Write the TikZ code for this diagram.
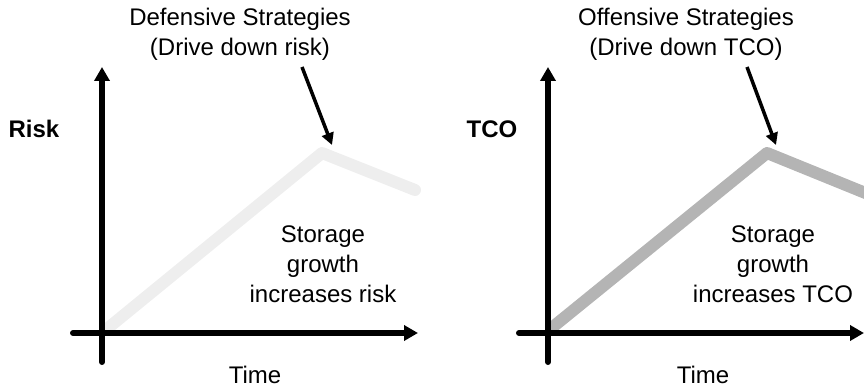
\documentclass[tikz,border=0pt]{standalone}
\usepackage{fontspec}
\setmainfont{Liberation Sans}
\usetikzlibrary{arrows.meta}
\definecolor{lowline}{HTML}{EEEEEE}
\definecolor{highline}{HTML}{B4B4B4}
\begin{document}
\begin{tikzpicture}[x=1pt,y=-1pt,
    axis/.style={line width=6pt,line cap=round,-{Triangle[length=14pt,width=15pt]}},
    trend/.style={line width=12pt,line cap=round,line join=round},
    pointer/.style={line width=3.5pt,-{Triangle[length=12pt,width=12pt]}},
    txt/.style={font=\fontsize{24}{30}\selectfont,align=center,inner sep=0pt}]
  \useasboundingbox (0,0) rectangle (864,387);
  % risk panel
  \coordinate (rxs) at (73,333);
  \coordinate (rxe) at (418,333);
  \coordinate (rys) at (102,362);
  \coordinate (rye) at (102,67);
  \coordinate (rstart) at (108,328);
  \coordinate (rpeak) at (322,153);
  \coordinate (rend) at (415,190);
  \coordinate (rps) at (302,67);
  \coordinate (rpt) at (332,145);
  \draw[trend,lowline] (rstart) -- (rpeak) -- (rend);
  \draw[axis] (rxs) -- (rxe);
  \draw[axis] (rys) -- (rye);
  \draw[pointer] (rps) -- (rpt);
  \node[txt] (rtitle) at (240,34) {Defensive Strategies\\(Drive down risk)};
  \node[txt,font=\fontsize{24}{30}\selectfont\bfseries] (rlabel) at (34,129) {Risk};
  \node[txt] (rtime) at (255,375) {Time};
  \node[txt] (rnote) at (323,264) {Storage\\growth\\increases risk};
  % tco panel
  \coordinate (txs) at (519,333);
  \coordinate (txe) at (864,333);
  \coordinate (tys) at (548,362);
  \coordinate (tye) at (548,67);
  \coordinate (tstart) at (554,326);
  \coordinate (tpeak) at (767,153);
  \coordinate (tend) at (890,203);
  \coordinate (tps) at (747,67);
  \coordinate (tpt) at (776,145);
  \draw[trend,highline] (tstart) -- (tpeak) -- (tend);
  \draw[axis] (txs) -- (txe);
  \draw[axis] (tys) -- (tye);
  \draw[pointer] (tps) -- (tpt);
  \node[txt] (ttitle) at (686,34) {Offensive Strategies\\(Drive down TCO)};
  \node[txt,font=\fontsize{24}{30}\selectfont\bfseries] (tlabel) at (492,129) {TCO};
  \node[txt] (ttime) at (703,375) {Time};
  \node[txt] (tnote) at (773,264) {Storage\\growth\\increases TCO};
\end{tikzpicture}
\end{document}
